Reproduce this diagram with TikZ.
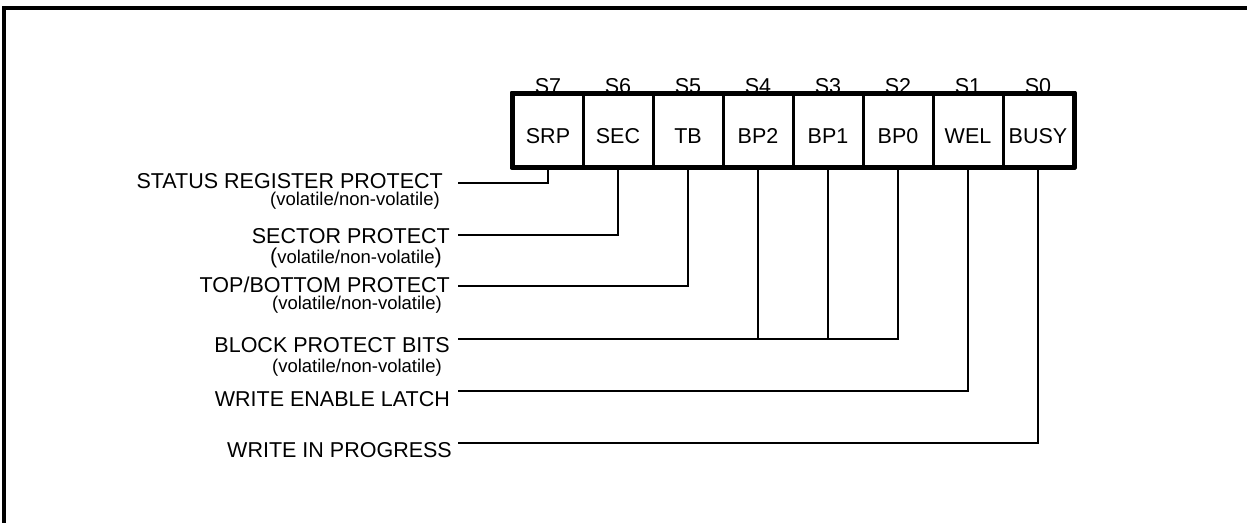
\documentclass[tikz,border=0pt]{standalone}
\usepackage{fontspec}
\setmainfont{Liberation Sans}
\begin{document}
\begin{tikzpicture}[x=1pt,y=-1pt,
  big/.style={font=\fontsize{21.5}{25}\selectfont},
  lbl/.style={big, inner sep=0pt, anchor=base east},
  sub/.style={font=\fontsize{18.5}{22}\selectfont, inner sep=0pt, anchor=base east},
  cell/.style={draw, line width=3pt, minimum width=70pt, minimum height=72pt, inner sep=0pt},
  celltxt/.style={big, inner sep=0pt, anchor=base},
  wire/.style={line width=2.3pt},
  frame/.style={line width=3.5pt}]
\useasboundingbox (0,0) rectangle (1247,522);
\begin{scope}
\clip (0,0) rectangle (1247,522);
\draw[frame] (4,8) rectangle (1270,560);
\end{scope}
% register cells
\foreach \n [count=\i from 0] in {7,6,5,4,3,2,1,0}{
  \node[cell] (c\n) at (548+70*\i,130) {};
}
\coordinate (tb) at (0,143);
\coordinate (sb) at (0,93);
\foreach \n/\t/\s in {7/SRP/S7,6/SEC/S6,5/TB/S5,4/BP2/S4,3/BP1/S3,2/BP0/S2,1/WEL/S1,0/BUSY/S0}{
  \node[celltxt] (t\n) at (c\n |- tb) {\t};
  \node[celltxt] (s\n) at (c\n |- sb) {\s};
}
\draw[line width=4pt, line join=round] (c7.north west) rectangle (c0.south east);
% labels
\node[lbl] (l7) at (443,188) {STATUS REGISTER PROTECT};
\node[sub] (v7) at (440,205) {(volatile/non-volatile)};
\node[lbl] (l6) at (450,243) {SECTOR PROTECT};
\node[sub] (v6) at (442,263) {{\fontsize{21.5}{25}\selectfont(}volatile/non-volatile{\fontsize{21.5}{25}\selectfont)}};
\node[lbl] (l5) at (450,292.5) {TOP/BOTTOM PROTECT};
\node[sub] (v5) at (442,309) {(volatile/non-volatile)};
\node[lbl] (l4) at (450,352.5) {BLOCK PROTECT BITS};
\node[sub] (v4) at (442,372) {(volatile/non-volatile)};
\node[lbl] (l1) at (450,406) {WRITE ENABLE LATCH};
\node[lbl] (l0) at (452,457) {WRITE IN PROGRESS};
% line ends
\coordinate (e7) at (458,183);
\coordinate (e6) at (458,235);
\coordinate (e5) at (458,286);
\coordinate (e4) at (458,339);
\coordinate (e1) at (458,391);
\coordinate (e0) at (458,443);
% wires
\draw[wire] (c7.south) |- (e7);
\draw[wire] (c6.south) |- (e6);
\draw[wire] (c5.south) |- (e5);
\draw[wire] (c2.south) |- (e4);
\draw[wire] (c4.south) -- (c4.south |- e4);
\draw[wire] (c3.south) -- (c3.south |- e4);
\draw[wire] (c1.south) |- (e1);
\draw[wire] (c0.south) |- (e0);
\end{tikzpicture}
\end{document}
